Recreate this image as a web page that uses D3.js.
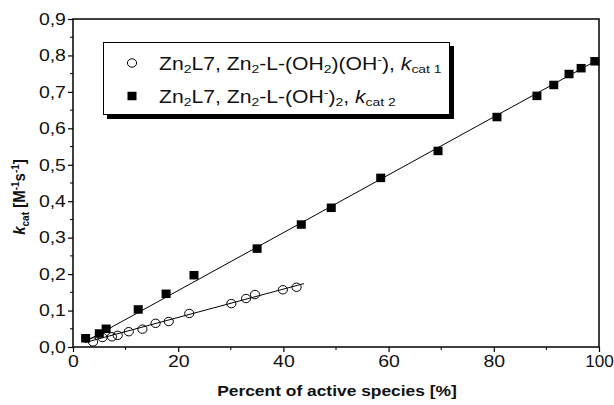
<!DOCTYPE html>
<html><head><meta charset="utf-8">
<script src="https://cdn.jsdelivr.net/npm/d3@7"></script>
<style>body{margin:0;background:#fff}svg{display:block}text{font-family:"Liberation Sans",Arial,sans-serif}</style>
</head><body><svg id="c" width="614" height="405"></svg>
<script>
// Data
const sqX = [2.4, 5.0, 6.3, 12.4, 17.7, 23.0, 35.0, 43.4, 49.1, 58.5, 69.4, 80.6, 88.2, 91.4, 94.3, 96.6, 99.2];
const sqY = [0.024, 0.037, 0.050, 0.103, 0.146, 0.197, 0.270, 0.336, 0.382, 0.464, 0.538, 0.631, 0.689, 0.719, 0.749, 0.765, 0.784];
const ciX = [3.8, 5.6, 7.4, 8.5, 10.6, 13.2, 15.7, 18.2, 22.1, 30.1, 32.9, 34.6, 39.9, 42.5];
const ciY = [0.014, 0.026, 0.028, 0.032, 0.042, 0.049, 0.065, 0.070, 0.092, 0.119, 0.133, 0.144, 0.157, 0.164];
const fitSqX = [2.5, 100];
const fitSqY = [0.016, 0.790];
const fitCiX = [2.2, 43.9];
const fitCiY = [0.012, 0.174];
const xTicks = [0, 20, 40, 60, 80, 100];
const yTicks = [0, 0.1, 0.2, 0.3, 0.4, 0.5, 0.6, 0.7, 0.8, 0.9];

const SX = 1.18; // horizontal stretch of the reference typography
const svg = d3.select("#c");
const L = 73, R = 599, T = 19, B = 347;
const x = d3.scaleLinear().domain([0, 100]).range([L, R]);
const y = d3.scaleLinear().domain([0, 0.9]).range([B, T]);
const fmt = d => d3.format(".1f")(d).replace(".", ",");

// minor ticks
const xMinor = d3.range(10, 100, 20);
const yMinor = d3.range(0.05, 0.9, 0.1);
const g = svg.append("g");
g.selectAll(".xm").data(xMinor).join("line").attr("x1", d => x(d)).attr("x2", d => x(d)).attr("y1", B).attr("y2", B + 3).attr("stroke", "#000").attr("stroke-width", 1);
g.selectAll(".ym").data(yMinor).join("line").attr("y1", d => y(d)).attr("y2", d => y(d)).attr("x1", L).attr("x2", L - 3).attr("stroke", "#000").attr("stroke-width", 1);

const xa = svg.append("g").attr("transform", `translate(0,${B})`).call(d3.axisBottom(x).tickValues(xTicks).tickSize(5).tickPadding(3).tickFormat(d3.format("d")));
const ya = svg.append("g").attr("transform", `translate(${L},0)`).call(d3.axisLeft(y).tickValues(yTicks).tickSize(5).tickPadding(1).tickFormat(fmt));
[xa, ya].forEach(a => {
  a.selectAll("text").attr("font-size", 16.5).attr("fill", "#111").style("font-family", '"Liberation Sans",Arial,sans-serif')
    .attr("transform", d => `scale(${d === 100 ? 1.04 : SX},1)`);
  a.selectAll("line").attr("stroke", "#000").attr("stroke-width", 1.2);
  a.select(".domain").remove();
});
// frame
svg.append("rect").attr("x", L).attr("y", T).attr("width", R - L).attr("height", B - T).attr("fill", "none").attr("stroke", "#000").attr("stroke-width", 1.5);

// fit lines
const line = d3.line().x(d => x(d[0])).y(d => y(d[1]));
svg.append("path").attr("d", line(d3.zip(fitCiX, fitCiY))).attr("stroke", "#000").attr("stroke-width", 1).attr("fill", "none");
svg.append("path").attr("d", line(d3.zip(fitSqX, fitSqY))).attr("stroke", "#000").attr("stroke-width", 1).attr("fill", "none");

// markers
svg.selectAll(".ci").data(d3.zip(ciX, ciY)).join("ellipse").attr("cx", d => x(d[0])).attr("cy", d => y(d[1])).attr("rx", 4.6).attr("ry", 4.2).attr("fill", "none").attr("stroke", "#000").attr("stroke-width", 1);
const sw = 9, sh = 8.5;
svg.selectAll(".sq").data(d3.zip(sqX, sqY)).join("rect").attr("x", d => x(d[0]) - sw / 2).attr("y", d => y(d[1]) - sh / 2).attr("width", sw).attr("height", sh).attr("fill", "#000");

// legend
const lg = svg.append("g");
lg.append("rect").attr("x", 107).attr("y", 46).attr("width", 347).attr("height", 73).attr("fill", "#000");
lg.append("rect").attr("x", 103.5).attr("y", 42.5).attr("width", 346).attr("height", 72).attr("fill", "#fff").attr("stroke", "#000").attr("stroke-width", 1);
lg.append("ellipse").attr("cx", 132).attr("cy", 63).attr("rx", 4.6).attr("ry", 4.2).attr("fill", "none").attr("stroke", "#000");
lg.append("rect").attr("x", 132 - sw / 2).attr("y", 96 - sh / 2).attr("width", sw).attr("height", sh).attr("fill", "#000");

function rich(t, parts) {
  parts.forEach(p => {
    const ts = t.append("tspan").text(p[0]);
    if (p[1] === "sub") ts.attr("font-size", 11.5).attr("baseline-shift", "-4");
    if (p[1] === "sup") ts.attr("font-size", 11.5).attr("baseline-shift", "6");
    if (p[1] === "it") ts.attr("font-style", "italic");
  });
}
const fs = 17.5;
rich(lg.append("text").attr("transform", `translate(159,69.5) scale(1.21,1)`).attr("font-size", fs).attr("fill", "#111"),
  [["Zn"], ["2", "sub"], ["L7, Zn"], ["2", "sub"], ["-L-(OH"], ["2", "sub"], [")(OH"], ["-", "sup"], ["), "], ["k", "it"], ["cat 1", "sub"]]);
rich(lg.append("text").attr("transform", `translate(159,102.5) scale(1.21,1)`).attr("font-size", fs).attr("fill", "#111"),
  [["Zn"], ["2", "sub"], ["L7, Zn"], ["2", "sub"], ["-L-(OH"], ["-", "sup"], [")"], ["2", "sub"], [", "], ["k", "it"], ["cat 2", "sub"]]);

// axis titles
svg.append("text").attr("transform", `translate(${(L + R) / 2 + 1},396) scale(1.16,1)`).attr("text-anchor", "middle").attr("font-size", 15).attr("font-weight", "bold").attr("fill", "#111").text("Percent of active species [%]");
const yt = svg.append("text").attr("transform", "translate(25,197) rotate(-90) scale(1,1.15)").attr("text-anchor", "middle").attr("font-size", 15).attr("font-weight", "bold").attr("fill", "#111");
yt.append("tspan").attr("font-style", "italic").text("k");
yt.append("tspan").attr("font-size", 10).attr("baseline-shift", "-4").text("cat");
yt.append("tspan").text(" [M");
yt.append("tspan").attr("font-size", 10).attr("baseline-shift", "6").text("-1");
yt.append("tspan").text("s");
yt.append("tspan").attr("font-size", 10).attr("baseline-shift", "6").text("-1");
yt.append("tspan").text("]");
</script></body></html>
